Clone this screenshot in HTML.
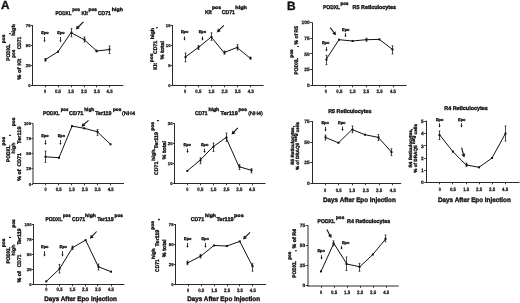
<!DOCTYPE html>
<html><head><meta charset="utf-8"><style>
html,body{margin:0;padding:0;background:#fff;width:520px;height:303px;overflow:hidden;position:relative;}
svg{filter:grayscale(1) blur(0.35px);}
svg text{stroke:#111;stroke-width:.35px;text-rendering:geometricPrecision;}
svg text.tk{stroke-width:.25px;}
</style></head><body>
<svg width="520" height="303" viewBox="0 0 520 303" style="position:absolute;left:0;top:0" font-family='"Liberation Sans", sans-serif' fill="#111">
<rect width="520" height="303" fill="#fff"/>
<line x1="32.5" y1="25" x2="32.5" y2="86" stroke="#2a2a2a" stroke-width="1.0"/>
<line x1="32" y1="85.5" x2="123.3" y2="85.5" stroke="#2a2a2a" stroke-width="1.0"/>
<line x1="30.9" y1="25.5" x2="32.5" y2="25.5" stroke="#222" stroke-width="0.9"/>
<text x="30.5" y="26.51" font-size="4.2" text-anchor="end" font-weight="bold" class="tk">75</text>
<line x1="30.9" y1="45.5" x2="32.5" y2="45.5" stroke="#222" stroke-width="0.9"/>
<text x="30.5" y="46.51" font-size="4.2" text-anchor="end" font-weight="bold" class="tk">50</text>
<line x1="30.9" y1="65.5" x2="32.5" y2="65.5" stroke="#222" stroke-width="0.9"/>
<text x="30.5" y="66.51" font-size="4.2" text-anchor="end" font-weight="bold" class="tk">25</text>
<line x1="30.9" y1="85.5" x2="32.5" y2="85.5" stroke="#222" stroke-width="0.9"/>
<text x="30.5" y="86.81" font-size="4.2" text-anchor="end" font-weight="bold" class="tk">0</text>
<line x1="45.5" y1="85.5" x2="45.5" y2="87.3" stroke="#222" stroke-width="0.9"/>
<text x="45" y="92.6" font-size="4.9" text-anchor="middle" font-weight="bold" class="tk" textLength="2.2" lengthAdjust="spacingAndGlyphs">0</text>
<line x1="58.5" y1="85.5" x2="58.5" y2="87.3" stroke="#222" stroke-width="0.9"/>
<text x="58" y="92.6" font-size="4.9" text-anchor="middle" font-weight="bold" class="tk" textLength="6" lengthAdjust="spacingAndGlyphs">0.5</text>
<line x1="71.5" y1="85.5" x2="71.5" y2="87.3" stroke="#222" stroke-width="0.9"/>
<text x="71" y="92.6" font-size="4.9" text-anchor="middle" font-weight="bold" class="tk" textLength="6" lengthAdjust="spacingAndGlyphs">1.5</text>
<line x1="84.5" y1="85.5" x2="84.5" y2="87.3" stroke="#222" stroke-width="0.9"/>
<text x="84" y="92.6" font-size="4.9" text-anchor="middle" font-weight="bold" class="tk" textLength="6" lengthAdjust="spacingAndGlyphs">2.5</text>
<line x1="96.5" y1="85.5" x2="96.5" y2="87.3" stroke="#222" stroke-width="0.9"/>
<text x="96.8" y="92.6" font-size="4.9" text-anchor="middle" font-weight="bold" class="tk" textLength="6" lengthAdjust="spacingAndGlyphs">3.5</text>
<line x1="109.5" y1="85.5" x2="109.5" y2="87.3" stroke="#222" stroke-width="0.9"/>
<text x="109.6" y="92.6" font-size="4.9" text-anchor="middle" font-weight="bold" class="tk" textLength="6" lengthAdjust="spacingAndGlyphs">4.5</text>
<polyline fill="none" stroke="#111" stroke-width="1" stroke-linejoin="round" points="45,59.8 58,51.7 71,32.7 84,39.5 96.8,51 109.6,49.5"/>
<line x1="45.5" y1="58.5" x2="45.5" y2="61.2" stroke="#111" stroke-width="0.75"/>
<line x1="44.6" y1="58.5" x2="46.4" y2="58.5" stroke="#111" stroke-width="0.75"/>
<line x1="44.6" y1="61.2" x2="46.4" y2="61.2" stroke="#111" stroke-width="0.75"/>
<rect x="44.5" y="58.8" width="2" height="2" fill="#111"/>
<rect x="57" y="50.7" width="2" height="2" fill="#111"/>
<line x1="71.5" y1="28.7" x2="71.5" y2="36.8" stroke="#111" stroke-width="0.75"/>
<line x1="70.6" y1="28.7" x2="72.4" y2="28.7" stroke="#111" stroke-width="0.75"/>
<line x1="70.6" y1="36.8" x2="72.4" y2="36.8" stroke="#111" stroke-width="0.75"/>
<rect x="70.5" y="31.7" width="2" height="2" fill="#111"/>
<line x1="84.5" y1="37" x2="84.5" y2="42" stroke="#111" stroke-width="0.75"/>
<line x1="83.6" y1="37" x2="85.4" y2="37" stroke="#111" stroke-width="0.75"/>
<line x1="83.6" y1="42" x2="85.4" y2="42" stroke="#111" stroke-width="0.75"/>
<rect x="83.5" y="38.5" width="2" height="2" fill="#111"/>
<line x1="96.5" y1="50" x2="96.5" y2="52" stroke="#111" stroke-width="0.75"/>
<line x1="95.6" y1="50" x2="97.4" y2="50" stroke="#111" stroke-width="0.75"/>
<line x1="95.6" y1="52" x2="97.4" y2="52" stroke="#111" stroke-width="0.75"/>
<rect x="95.5" y="50" width="2" height="2" fill="#111"/>
<line x1="109.5" y1="46" x2="109.5" y2="53.6" stroke="#111" stroke-width="0.75"/>
<line x1="108.6" y1="46" x2="110.4" y2="46" stroke="#111" stroke-width="0.75"/>
<line x1="108.6" y1="53.6" x2="110.4" y2="53.6" stroke="#111" stroke-width="0.75"/>
<rect x="108.5" y="48.5" width="2" height="2" fill="#111"/>
<text x="45" y="34.2" font-size="3.9" text-anchor="middle" font-weight="bold" textLength="7.4" lengthAdjust="spacingAndGlyphs">Epo</text>
<line x1="44.5" y1="37.1" x2="44.5" y2="40.8" stroke="#111" stroke-width="0.85"/>
<polygon points="44.5,42.3 43.35,40.4 45.65,40.4" fill="#111"/>
<text x="61" y="34.2" font-size="3.9" text-anchor="middle" font-weight="bold" textLength="7.4" lengthAdjust="spacingAndGlyphs">Epo</text>
<line x1="60.5" y1="37.1" x2="60.5" y2="40.8" stroke="#111" stroke-width="0.85"/>
<polygon points="60.5,42.3 59.35,40.4 61.65,40.4" fill="#111"/>
<line x1="83.4" y1="21.9" x2="78.06" y2="27.24" stroke="#111" stroke-width="1.1"/>
<polygon points="75.8,29.5 76.93,25.54 79.76,28.37" fill="#111"/>
<line x1="172.5" y1="25" x2="172.5" y2="86" stroke="#2a2a2a" stroke-width="1.0"/>
<line x1="172" y1="85.5" x2="263.6" y2="85.5" stroke="#2a2a2a" stroke-width="1.0"/>
<line x1="170.9" y1="25.5" x2="172.5" y2="25.5" stroke="#222" stroke-width="0.9"/>
<text x="170.5" y="26.51" font-size="4.2" text-anchor="end" font-weight="bold" class="tk">15</text>
<line x1="170.9" y1="45.5" x2="172.5" y2="45.5" stroke="#222" stroke-width="0.9"/>
<text x="170.5" y="46.51" font-size="4.2" text-anchor="end" font-weight="bold" class="tk">10</text>
<line x1="170.9" y1="65.5" x2="172.5" y2="65.5" stroke="#222" stroke-width="0.9"/>
<text x="170.5" y="66.71" font-size="4.2" text-anchor="end" font-weight="bold" class="tk">5</text>
<line x1="170.9" y1="85.5" x2="172.5" y2="85.5" stroke="#222" stroke-width="0.9"/>
<text x="170.5" y="86.81" font-size="4.2" text-anchor="end" font-weight="bold" class="tk">0</text>
<line x1="185.5" y1="85.5" x2="185.5" y2="87.3" stroke="#222" stroke-width="0.9"/>
<text x="185.1" y="92.5" font-size="4.9" text-anchor="middle" font-weight="bold" class="tk" textLength="2.2" lengthAdjust="spacingAndGlyphs">0</text>
<line x1="198.5" y1="85.5" x2="198.5" y2="87.3" stroke="#222" stroke-width="0.9"/>
<text x="198.3" y="92.5" font-size="4.9" text-anchor="middle" font-weight="bold" class="tk" textLength="6" lengthAdjust="spacingAndGlyphs">0.5</text>
<line x1="211.5" y1="85.5" x2="211.5" y2="87.3" stroke="#222" stroke-width="0.9"/>
<text x="211.5" y="92.5" font-size="4.9" text-anchor="middle" font-weight="bold" class="tk" textLength="6" lengthAdjust="spacingAndGlyphs">1.5</text>
<line x1="224.5" y1="85.5" x2="224.5" y2="87.3" stroke="#222" stroke-width="0.9"/>
<text x="224.6" y="92.5" font-size="4.9" text-anchor="middle" font-weight="bold" class="tk" textLength="6" lengthAdjust="spacingAndGlyphs">2.5</text>
<line x1="237.5" y1="85.5" x2="237.5" y2="87.3" stroke="#222" stroke-width="0.9"/>
<text x="237.7" y="92.5" font-size="4.9" text-anchor="middle" font-weight="bold" class="tk" textLength="6" lengthAdjust="spacingAndGlyphs">3.5</text>
<line x1="250.5" y1="85.5" x2="250.5" y2="87.3" stroke="#222" stroke-width="0.9"/>
<text x="250.8" y="92.5" font-size="4.9" text-anchor="middle" font-weight="bold" class="tk" textLength="6" lengthAdjust="spacingAndGlyphs">4.5</text>
<polyline fill="none" stroke="#111" stroke-width="1" stroke-linejoin="round" points="185.2,57.1 198.3,47.5 211.2,37 224,52.6 237,47.5 250,58.1"/>
<line x1="185.5" y1="53" x2="185.5" y2="61.8" stroke="#111" stroke-width="0.75"/>
<line x1="184.6" y1="53" x2="186.4" y2="53" stroke="#111" stroke-width="0.75"/>
<line x1="184.6" y1="61.8" x2="186.4" y2="61.8" stroke="#111" stroke-width="0.75"/>
<rect x="184.5" y="56.1" width="2" height="2" fill="#111"/>
<line x1="198.5" y1="45.5" x2="198.5" y2="49.5" stroke="#111" stroke-width="0.75"/>
<line x1="197.6" y1="45.5" x2="199.4" y2="45.5" stroke="#111" stroke-width="0.75"/>
<line x1="197.6" y1="49.5" x2="199.4" y2="49.5" stroke="#111" stroke-width="0.75"/>
<rect x="197.5" y="46.5" width="2" height="2" fill="#111"/>
<line x1="211.5" y1="32.8" x2="211.5" y2="40.4" stroke="#111" stroke-width="0.75"/>
<line x1="210.6" y1="32.8" x2="212.4" y2="32.8" stroke="#111" stroke-width="0.75"/>
<line x1="210.6" y1="40.4" x2="212.4" y2="40.4" stroke="#111" stroke-width="0.75"/>
<rect x="210.5" y="36" width="2" height="2" fill="#111"/>
<line x1="224.5" y1="51" x2="224.5" y2="54.2" stroke="#111" stroke-width="0.75"/>
<line x1="223.6" y1="51" x2="225.4" y2="51" stroke="#111" stroke-width="0.75"/>
<line x1="223.6" y1="54.2" x2="225.4" y2="54.2" stroke="#111" stroke-width="0.75"/>
<rect x="223.5" y="51.6" width="2" height="2" fill="#111"/>
<line x1="237.5" y1="44.6" x2="237.5" y2="50" stroke="#111" stroke-width="0.75"/>
<line x1="236.6" y1="44.6" x2="238.4" y2="44.6" stroke="#111" stroke-width="0.75"/>
<line x1="236.6" y1="50" x2="238.4" y2="50" stroke="#111" stroke-width="0.75"/>
<rect x="236.5" y="46.5" width="2" height="2" fill="#111"/>
<line x1="250.5" y1="57" x2="250.5" y2="59.2" stroke="#111" stroke-width="0.75"/>
<line x1="249.6" y1="57" x2="251.4" y2="57" stroke="#111" stroke-width="0.75"/>
<line x1="249.6" y1="59.2" x2="251.4" y2="59.2" stroke="#111" stroke-width="0.75"/>
<rect x="249.5" y="57.1" width="2" height="2" fill="#111"/>
<text x="184.6" y="33.4" font-size="3.9" text-anchor="middle" font-weight="bold" textLength="7.4" lengthAdjust="spacingAndGlyphs">Epo</text>
<line x1="184.5" y1="36.4" x2="184.5" y2="39" stroke="#111" stroke-width="0.85"/>
<polygon points="184.5,40.5 183.35,38.6 185.65,38.6" fill="#111"/>
<text x="202.4" y="33.4" font-size="3.9" text-anchor="middle" font-weight="bold" textLength="7.4" lengthAdjust="spacingAndGlyphs">Epo</text>
<line x1="202.5" y1="36.4" x2="202.5" y2="39" stroke="#111" stroke-width="0.85"/>
<polygon points="202.5,40.5 201.35,38.6 203.65,38.6" fill="#111"/>
<line x1="223.8" y1="25.3" x2="219.05" y2="30.12" stroke="#111" stroke-width="1.1"/>
<polygon points="216.8,32.4 217.9,28.43 220.75,31.24" fill="#111"/>
<line x1="33" y1="123.3" x2="33" y2="184" stroke="#2a2a2a" stroke-width="1.0"/>
<line x1="32.5" y1="183.5" x2="124" y2="183.5" stroke="#2a2a2a" stroke-width="1.0"/>
<line x1="31.4" y1="123.5" x2="33" y2="123.5" stroke="#222" stroke-width="0.9"/>
<text x="31" y="125.01" font-size="4.2" text-anchor="end" font-weight="bold" class="tk">100</text>
<line x1="31.4" y1="138.5" x2="33" y2="138.5" stroke="#222" stroke-width="0.9"/>
<text x="31" y="140.31" font-size="4.2" text-anchor="end" font-weight="bold" class="tk">75</text>
<line x1="31.4" y1="153.5" x2="33" y2="153.5" stroke="#222" stroke-width="0.9"/>
<text x="31" y="155.31" font-size="4.2" text-anchor="end" font-weight="bold" class="tk">50</text>
<line x1="31.4" y1="168.5" x2="33" y2="168.5" stroke="#222" stroke-width="0.9"/>
<text x="31" y="170.31" font-size="4.2" text-anchor="end" font-weight="bold" class="tk">25</text>
<line x1="31.4" y1="184.5" x2="33" y2="184.5" stroke="#222" stroke-width="0.9"/>
<text x="31" y="185.51" font-size="4.2" text-anchor="end" font-weight="bold" class="tk">0</text>
<line x1="45.5" y1="183.5" x2="45.5" y2="185.3" stroke="#222" stroke-width="0.9"/>
<text x="45.6" y="191" font-size="4.9" text-anchor="middle" font-weight="bold" class="tk" textLength="2.2" lengthAdjust="spacingAndGlyphs">0</text>
<line x1="58.5" y1="183.5" x2="58.5" y2="185.3" stroke="#222" stroke-width="0.9"/>
<text x="58.7" y="191" font-size="4.9" text-anchor="middle" font-weight="bold" class="tk" textLength="6" lengthAdjust="spacingAndGlyphs">0.5</text>
<line x1="71.5" y1="183.5" x2="71.5" y2="185.3" stroke="#222" stroke-width="0.9"/>
<text x="71.8" y="191" font-size="4.9" text-anchor="middle" font-weight="bold" class="tk" textLength="6" lengthAdjust="spacingAndGlyphs">1.5</text>
<line x1="84.5" y1="183.5" x2="84.5" y2="185.3" stroke="#222" stroke-width="0.9"/>
<text x="84.8" y="191" font-size="4.9" text-anchor="middle" font-weight="bold" class="tk" textLength="6" lengthAdjust="spacingAndGlyphs">2.5</text>
<line x1="97.5" y1="183.5" x2="97.5" y2="185.3" stroke="#222" stroke-width="0.9"/>
<text x="97.6" y="191" font-size="4.9" text-anchor="middle" font-weight="bold" class="tk" textLength="6" lengthAdjust="spacingAndGlyphs">3.5</text>
<line x1="110.5" y1="183.5" x2="110.5" y2="185.3" stroke="#222" stroke-width="0.9"/>
<text x="110.7" y="191" font-size="4.9" text-anchor="middle" font-weight="bold" class="tk" textLength="6" lengthAdjust="spacingAndGlyphs">4.5</text>
<polyline fill="none" stroke="#111" stroke-width="1" stroke-linejoin="round" points="45.6,156.8 59,157.7 72,126.1 84.2,128.3 97.2,131.7 110.5,144.3"/>
<line x1="45.5" y1="151" x2="45.5" y2="162.4" stroke="#111" stroke-width="0.75"/>
<line x1="44.6" y1="151" x2="46.4" y2="151" stroke="#111" stroke-width="0.75"/>
<line x1="44.6" y1="162.4" x2="46.4" y2="162.4" stroke="#111" stroke-width="0.75"/>
<rect x="44.5" y="155.8" width="2" height="2" fill="#111"/>
<rect x="58" y="156.7" width="2" height="2" fill="#111"/>
<rect x="71" y="125.1" width="2" height="2" fill="#111"/>
<rect x="83.2" y="127.3" width="2" height="2" fill="#111"/>
<line x1="97.5" y1="129.5" x2="97.5" y2="135.4" stroke="#111" stroke-width="0.75"/>
<line x1="96.6" y1="129.5" x2="98.4" y2="129.5" stroke="#111" stroke-width="0.75"/>
<line x1="96.6" y1="135.4" x2="98.4" y2="135.4" stroke="#111" stroke-width="0.75"/>
<rect x="96.5" y="130.7" width="2" height="2" fill="#111"/>
<rect x="109.5" y="143.3" width="2" height="2" fill="#111"/>
<text x="45" y="136.8" font-size="3.9" text-anchor="middle" font-weight="bold" textLength="7.4" lengthAdjust="spacingAndGlyphs">Epo</text>
<line x1="45.5" y1="140.1" x2="45.5" y2="143.5" stroke="#111" stroke-width="0.85"/>
<polygon points="45.5,145 44.35,143.1 46.65,143.1" fill="#111"/>
<text x="61.4" y="136.8" font-size="3.9" text-anchor="middle" font-weight="bold" textLength="7.4" lengthAdjust="spacingAndGlyphs">Epo</text>
<line x1="60.5" y1="140.1" x2="60.5" y2="143.5" stroke="#111" stroke-width="0.85"/>
<polygon points="60.5,145 59.35,143.1 61.65,143.1" fill="#111"/>
<line x1="88.5" y1="120.3" x2="83.76" y2="124.64" stroke="#111" stroke-width="1.1"/>
<polygon points="81.4,126.8 82.7,122.89 85.41,125.84" fill="#111"/>
<line x1="174.5" y1="123.3" x2="174.5" y2="184" stroke="#2a2a2a" stroke-width="1.0"/>
<line x1="174" y1="183.5" x2="265.5" y2="183.5" stroke="#2a2a2a" stroke-width="1.0"/>
<line x1="172.9" y1="123.5" x2="174.5" y2="123.5" stroke="#222" stroke-width="0.9"/>
<text x="172.5" y="125.01" font-size="4.2" text-anchor="end" font-weight="bold" class="tk">30</text>
<line x1="172.9" y1="143.5" x2="174.5" y2="143.5" stroke="#222" stroke-width="0.9"/>
<text x="172.5" y="144.81" font-size="4.2" text-anchor="end" font-weight="bold" class="tk">20</text>
<line x1="172.9" y1="163.5" x2="174.5" y2="163.5" stroke="#222" stroke-width="0.9"/>
<text x="172.5" y="164.81" font-size="4.2" text-anchor="end" font-weight="bold" class="tk">10</text>
<line x1="172.9" y1="183.5" x2="174.5" y2="183.5" stroke="#222" stroke-width="0.9"/>
<text x="172.5" y="185.11" font-size="4.2" text-anchor="end" font-weight="bold" class="tk">0</text>
<line x1="187.5" y1="183.5" x2="187.5" y2="185.3" stroke="#222" stroke-width="0.9"/>
<text x="187.3" y="190.9" font-size="4.9" text-anchor="middle" font-weight="bold" class="tk" textLength="2.2" lengthAdjust="spacingAndGlyphs">0</text>
<line x1="200.5" y1="183.5" x2="200.5" y2="185.3" stroke="#222" stroke-width="0.9"/>
<text x="200.3" y="190.9" font-size="4.9" text-anchor="middle" font-weight="bold" class="tk" textLength="6" lengthAdjust="spacingAndGlyphs">0.5</text>
<line x1="213.5" y1="183.5" x2="213.5" y2="185.3" stroke="#222" stroke-width="0.9"/>
<text x="213.4" y="190.9" font-size="4.9" text-anchor="middle" font-weight="bold" class="tk" textLength="6" lengthAdjust="spacingAndGlyphs">1.5</text>
<line x1="226.5" y1="183.5" x2="226.5" y2="185.3" stroke="#222" stroke-width="0.9"/>
<text x="226.5" y="190.9" font-size="4.9" text-anchor="middle" font-weight="bold" class="tk" textLength="6" lengthAdjust="spacingAndGlyphs">2.5</text>
<line x1="239.5" y1="183.5" x2="239.5" y2="185.3" stroke="#222" stroke-width="0.9"/>
<text x="239.3" y="190.9" font-size="4.9" text-anchor="middle" font-weight="bold" class="tk" textLength="6" lengthAdjust="spacingAndGlyphs">3.5</text>
<line x1="252.5" y1="183.5" x2="252.5" y2="185.3" stroke="#222" stroke-width="0.9"/>
<text x="252.1" y="190.9" font-size="4.9" text-anchor="middle" font-weight="bold" class="tk" textLength="6" lengthAdjust="spacingAndGlyphs">4.5</text>
<polyline fill="none" stroke="#111" stroke-width="1" stroke-linejoin="round" points="187.3,170.9 200,160.3 213,146.8 226,137.6 239,166.7 251.8,170.4"/>
<rect x="186.3" y="169.9" width="2" height="2" fill="#111"/>
<line x1="200.5" y1="157.8" x2="200.5" y2="163.7" stroke="#111" stroke-width="0.75"/>
<line x1="199.6" y1="157.8" x2="201.4" y2="157.8" stroke="#111" stroke-width="0.75"/>
<line x1="199.6" y1="163.7" x2="201.4" y2="163.7" stroke="#111" stroke-width="0.75"/>
<rect x="199.5" y="159.3" width="2" height="2" fill="#111"/>
<line x1="213.5" y1="143.1" x2="213.5" y2="151.5" stroke="#111" stroke-width="0.75"/>
<line x1="212.6" y1="143.1" x2="214.4" y2="143.1" stroke="#111" stroke-width="0.75"/>
<line x1="212.6" y1="151.5" x2="214.4" y2="151.5" stroke="#111" stroke-width="0.75"/>
<rect x="212.5" y="145.8" width="2" height="2" fill="#111"/>
<line x1="226.5" y1="133" x2="226.5" y2="141.4" stroke="#111" stroke-width="0.75"/>
<line x1="225.6" y1="133" x2="227.4" y2="133" stroke="#111" stroke-width="0.75"/>
<line x1="225.6" y1="141.4" x2="227.4" y2="141.4" stroke="#111" stroke-width="0.75"/>
<rect x="225.5" y="136.6" width="2" height="2" fill="#111"/>
<line x1="239.5" y1="164.5" x2="239.5" y2="169.6" stroke="#111" stroke-width="0.75"/>
<line x1="238.6" y1="164.5" x2="240.4" y2="164.5" stroke="#111" stroke-width="0.75"/>
<line x1="238.6" y1="169.6" x2="240.4" y2="169.6" stroke="#111" stroke-width="0.75"/>
<rect x="238.5" y="165.7" width="2" height="2" fill="#111"/>
<line x1="251.5" y1="168.7" x2="251.5" y2="172.9" stroke="#111" stroke-width="0.75"/>
<line x1="250.6" y1="168.7" x2="252.4" y2="168.7" stroke="#111" stroke-width="0.75"/>
<line x1="250.6" y1="172.9" x2="252.4" y2="172.9" stroke="#111" stroke-width="0.75"/>
<rect x="250.5" y="169.4" width="2" height="2" fill="#111"/>
<text x="187.3" y="145.8" font-size="3.9" text-anchor="middle" font-weight="bold" textLength="7.4" lengthAdjust="spacingAndGlyphs">Epo</text>
<line x1="187.5" y1="148.6" x2="187.5" y2="151.5" stroke="#111" stroke-width="0.85"/>
<polygon points="187.5,153 186.35,151.1 188.65,151.1" fill="#111"/>
<text x="204.6" y="145.8" font-size="3.9" text-anchor="middle" font-weight="bold" textLength="7.4" lengthAdjust="spacingAndGlyphs">Epo</text>
<line x1="204.5" y1="148.6" x2="204.5" y2="151.5" stroke="#111" stroke-width="0.85"/>
<polygon points="204.5,153 203.35,151.1 205.65,151.1" fill="#111"/>
<line x1="237.8" y1="127.8" x2="233.76" y2="132.24" stroke="#111" stroke-width="1.1"/>
<polygon points="231.6,134.6 232.55,130.59 235.5,133.29" fill="#111"/>
<line x1="33.5" y1="224" x2="33.5" y2="285" stroke="#2a2a2a" stroke-width="1.0"/>
<line x1="33" y1="284.5" x2="124.4" y2="284.5" stroke="#2a2a2a" stroke-width="1.0"/>
<line x1="31.9" y1="224.5" x2="33.5" y2="224.5" stroke="#222" stroke-width="0.9"/>
<text x="31.5" y="225.51" font-size="4.2" text-anchor="end" font-weight="bold" class="tk">100</text>
<line x1="31.9" y1="239.5" x2="33.5" y2="239.5" stroke="#222" stroke-width="0.9"/>
<text x="31.5" y="240.71" font-size="4.2" text-anchor="end" font-weight="bold" class="tk">75</text>
<line x1="31.9" y1="254.5" x2="33.5" y2="254.5" stroke="#222" stroke-width="0.9"/>
<text x="31.5" y="255.61" font-size="4.2" text-anchor="end" font-weight="bold" class="tk">50</text>
<line x1="31.9" y1="269.5" x2="33.5" y2="269.5" stroke="#222" stroke-width="0.9"/>
<text x="31.5" y="270.71" font-size="4.2" text-anchor="end" font-weight="bold" class="tk">25</text>
<line x1="31.9" y1="284.5" x2="33.5" y2="284.5" stroke="#222" stroke-width="0.9"/>
<text x="31.5" y="285.81" font-size="4.2" text-anchor="end" font-weight="bold" class="tk">0</text>
<line x1="46.5" y1="284.5" x2="46.5" y2="286.3" stroke="#222" stroke-width="0.9"/>
<text x="46.3" y="291.3" font-size="4.9" text-anchor="middle" font-weight="bold" class="tk" textLength="2.2" lengthAdjust="spacingAndGlyphs">0</text>
<line x1="59.5" y1="284.5" x2="59.5" y2="286.3" stroke="#222" stroke-width="0.9"/>
<text x="59.6" y="291.3" font-size="4.9" text-anchor="middle" font-weight="bold" class="tk" textLength="6" lengthAdjust="spacingAndGlyphs">0.5</text>
<line x1="72.5" y1="284.5" x2="72.5" y2="286.3" stroke="#222" stroke-width="0.9"/>
<text x="72.4" y="291.3" font-size="4.9" text-anchor="middle" font-weight="bold" class="tk" textLength="6" lengthAdjust="spacingAndGlyphs">1.5</text>
<line x1="85.5" y1="284.5" x2="85.5" y2="286.3" stroke="#222" stroke-width="0.9"/>
<text x="85.1" y="291.3" font-size="4.9" text-anchor="middle" font-weight="bold" class="tk" textLength="6" lengthAdjust="spacingAndGlyphs">2.5</text>
<line x1="97.5" y1="284.5" x2="97.5" y2="286.3" stroke="#222" stroke-width="0.9"/>
<text x="97.9" y="291.3" font-size="4.9" text-anchor="middle" font-weight="bold" class="tk" textLength="6" lengthAdjust="spacingAndGlyphs">3.5</text>
<line x1="111.5" y1="284.5" x2="111.5" y2="286.3" stroke="#222" stroke-width="0.9"/>
<text x="111" y="291.3" font-size="4.9" text-anchor="middle" font-weight="bold" class="tk" textLength="6" lengthAdjust="spacingAndGlyphs">4.5</text>
<polyline fill="none" stroke="#111" stroke-width="1" stroke-linejoin="round" points="46.3,281.4 59.6,268.8 72.5,247.7 85.6,240.1 98.4,266.8 111,271.7"/>
<rect x="45.3" y="280.4" width="2" height="2" fill="#111"/>
<line x1="59.5" y1="264.5" x2="59.5" y2="273" stroke="#111" stroke-width="0.75"/>
<line x1="58.6" y1="264.5" x2="60.4" y2="264.5" stroke="#111" stroke-width="0.75"/>
<line x1="58.6" y1="273" x2="60.4" y2="273" stroke="#111" stroke-width="0.75"/>
<rect x="58.5" y="267.8" width="2" height="2" fill="#111"/>
<line x1="72.5" y1="246" x2="72.5" y2="249.5" stroke="#111" stroke-width="0.75"/>
<line x1="71.6" y1="246" x2="73.4" y2="246" stroke="#111" stroke-width="0.75"/>
<line x1="71.6" y1="249.5" x2="73.4" y2="249.5" stroke="#111" stroke-width="0.75"/>
<rect x="71.5" y="246.7" width="2" height="2" fill="#111"/>
<rect x="84.6" y="239.1" width="2" height="2" fill="#111"/>
<line x1="98.5" y1="264" x2="98.5" y2="270" stroke="#111" stroke-width="0.75"/>
<line x1="97.6" y1="264" x2="99.4" y2="264" stroke="#111" stroke-width="0.75"/>
<line x1="97.6" y1="270" x2="99.4" y2="270" stroke="#111" stroke-width="0.75"/>
<rect x="97.5" y="265.8" width="2" height="2" fill="#111"/>
<rect x="110" y="270.7" width="2" height="2" fill="#111"/>
<text x="44.8" y="247.7" font-size="3.9" text-anchor="middle" font-weight="bold" textLength="7.4" lengthAdjust="spacingAndGlyphs">Epo</text>
<line x1="44.5" y1="251.1" x2="44.5" y2="255" stroke="#111" stroke-width="0.85"/>
<polygon points="44.5,256.5 43.35,254.6 45.65,254.6" fill="#111"/>
<text x="63.3" y="247.7" font-size="3.9" text-anchor="middle" font-weight="bold" textLength="7.4" lengthAdjust="spacingAndGlyphs">Epo</text>
<line x1="62.5" y1="251.1" x2="62.5" y2="255" stroke="#111" stroke-width="0.85"/>
<polygon points="62.5,256.5 61.35,254.6 63.65,254.6" fill="#111"/>
<line x1="96.6" y1="231.5" x2="92.08" y2="236.36" stroke="#111" stroke-width="1.1"/>
<polygon points="89.9,238.7 90.89,234.7 93.82,237.43" fill="#111"/>
<line x1="175.5" y1="224" x2="175.5" y2="285" stroke="#2a2a2a" stroke-width="1.0"/>
<line x1="175" y1="284.5" x2="266" y2="284.5" stroke="#2a2a2a" stroke-width="1.0"/>
<line x1="173.9" y1="224.5" x2="175.5" y2="224.5" stroke="#222" stroke-width="0.9"/>
<text x="173.5" y="225.51" font-size="4.2" text-anchor="end" font-weight="bold" class="tk">75</text>
<line x1="173.9" y1="244.5" x2="175.5" y2="244.5" stroke="#222" stroke-width="0.9"/>
<text x="173.5" y="245.81" font-size="4.2" text-anchor="end" font-weight="bold" class="tk">50</text>
<line x1="173.9" y1="264.5" x2="175.5" y2="264.5" stroke="#222" stroke-width="0.9"/>
<text x="173.5" y="266.01" font-size="4.2" text-anchor="end" font-weight="bold" class="tk">25</text>
<line x1="173.9" y1="284.5" x2="175.5" y2="284.5" stroke="#222" stroke-width="0.9"/>
<text x="173.5" y="285.81" font-size="4.2" text-anchor="end" font-weight="bold" class="tk">0</text>
<line x1="188.5" y1="284.5" x2="188.5" y2="286.3" stroke="#222" stroke-width="0.9"/>
<text x="188.2" y="292.3" font-size="4.9" text-anchor="middle" font-weight="bold" class="tk" textLength="2.2" lengthAdjust="spacingAndGlyphs">0</text>
<line x1="201.5" y1="284.5" x2="201.5" y2="286.3" stroke="#222" stroke-width="0.9"/>
<text x="201.2" y="292.3" font-size="4.9" text-anchor="middle" font-weight="bold" class="tk" textLength="6" lengthAdjust="spacingAndGlyphs">0.5</text>
<line x1="214.5" y1="284.5" x2="214.5" y2="286.3" stroke="#222" stroke-width="0.9"/>
<text x="214.2" y="292.3" font-size="4.9" text-anchor="middle" font-weight="bold" class="tk" textLength="6" lengthAdjust="spacingAndGlyphs">1.5</text>
<line x1="227.5" y1="284.5" x2="227.5" y2="286.3" stroke="#222" stroke-width="0.9"/>
<text x="227.1" y="292.3" font-size="4.9" text-anchor="middle" font-weight="bold" class="tk" textLength="6" lengthAdjust="spacingAndGlyphs">2.5</text>
<line x1="239.5" y1="284.5" x2="239.5" y2="286.3" stroke="#222" stroke-width="0.9"/>
<text x="239.9" y="292.3" font-size="4.9" text-anchor="middle" font-weight="bold" class="tk" textLength="6" lengthAdjust="spacingAndGlyphs">3.5</text>
<line x1="252.5" y1="284.5" x2="252.5" y2="286.3" stroke="#222" stroke-width="0.9"/>
<text x="252.8" y="292.3" font-size="4.9" text-anchor="middle" font-weight="bold" class="tk" textLength="6" lengthAdjust="spacingAndGlyphs">4.5</text>
<polyline fill="none" stroke="#111" stroke-width="1" stroke-linejoin="round" points="187.8,262.8 200.8,256.1 213.9,245.5 226.9,246 239.8,241.4 252.5,266.2"/>
<line x1="187.5" y1="261" x2="187.5" y2="264.6" stroke="#111" stroke-width="0.75"/>
<line x1="186.6" y1="261" x2="188.4" y2="261" stroke="#111" stroke-width="0.75"/>
<line x1="186.6" y1="264.6" x2="188.4" y2="264.6" stroke="#111" stroke-width="0.75"/>
<rect x="186.5" y="261.8" width="2" height="2" fill="#111"/>
<line x1="200.5" y1="254.4" x2="200.5" y2="257.9" stroke="#111" stroke-width="0.75"/>
<line x1="199.6" y1="254.4" x2="201.4" y2="254.4" stroke="#111" stroke-width="0.75"/>
<line x1="199.6" y1="257.9" x2="201.4" y2="257.9" stroke="#111" stroke-width="0.75"/>
<rect x="199.5" y="255.1" width="2" height="2" fill="#111"/>
<rect x="212.9" y="244.5" width="2" height="2" fill="#111"/>
<rect x="225.9" y="245" width="2" height="2" fill="#111"/>
<rect x="238.8" y="240.4" width="2" height="2" fill="#111"/>
<line x1="252.5" y1="263.7" x2="252.5" y2="271.2" stroke="#111" stroke-width="0.75"/>
<line x1="251.6" y1="263.7" x2="253.4" y2="263.7" stroke="#111" stroke-width="0.75"/>
<line x1="251.6" y1="271.2" x2="253.4" y2="271.2" stroke="#111" stroke-width="0.75"/>
<rect x="251.5" y="265.2" width="2" height="2" fill="#111"/>
<text x="187.8" y="240" font-size="3.9" text-anchor="middle" font-weight="bold" textLength="7.4" lengthAdjust="spacingAndGlyphs">Epo</text>
<line x1="187.5" y1="242.9" x2="187.5" y2="246.3" stroke="#111" stroke-width="0.85"/>
<polygon points="187.5,247.8 186.35,245.9 188.65,245.9" fill="#111"/>
<text x="205.2" y="240" font-size="3.9" text-anchor="middle" font-weight="bold" textLength="7.4" lengthAdjust="spacingAndGlyphs">Epo</text>
<line x1="205.5" y1="242.9" x2="205.5" y2="246.3" stroke="#111" stroke-width="0.85"/>
<polygon points="205.5,247.8 204.35,245.9 206.65,245.9" fill="#111"/>
<line x1="250" y1="232.4" x2="245.25" y2="237.22" stroke="#111" stroke-width="1.1"/>
<polygon points="243,239.5 244.1,235.53 246.95,238.34" fill="#111"/>
<line x1="312.5" y1="22.6" x2="312.5" y2="86" stroke="#2a2a2a" stroke-width="1.0"/>
<line x1="312" y1="85.5" x2="406.6" y2="85.5" stroke="#2a2a2a" stroke-width="1.0"/>
<line x1="310.2" y1="22.5" x2="312.5" y2="22.5" stroke="#222" stroke-width="0.9"/>
<text x="309.6" y="24.33" font-size="4.8" text-anchor="end" font-weight="bold" class="tk">100</text>
<line x1="310.2" y1="38.5" x2="312.5" y2="38.5" stroke="#222" stroke-width="0.9"/>
<text x="309.6" y="40.23" font-size="4.8" text-anchor="end" font-weight="bold" class="tk">75</text>
<line x1="310.2" y1="53.5" x2="312.5" y2="53.5" stroke="#222" stroke-width="0.9"/>
<text x="309.6" y="55.53" font-size="4.8" text-anchor="end" font-weight="bold" class="tk">50</text>
<line x1="310.2" y1="69.5" x2="312.5" y2="69.5" stroke="#222" stroke-width="0.9"/>
<text x="309.6" y="71.33" font-size="4.8" text-anchor="end" font-weight="bold" class="tk">25</text>
<line x1="310.2" y1="85.5" x2="312.5" y2="85.5" stroke="#222" stroke-width="0.9"/>
<text x="309.6" y="86.73" font-size="4.8" text-anchor="end" font-weight="bold" class="tk">0</text>
<line x1="325.5" y1="85.5" x2="325.5" y2="87.3" stroke="#222" stroke-width="0.9"/>
<text x="325.8" y="93.3" font-size="4.9" text-anchor="middle" font-weight="bold" class="tk" textLength="2.2" lengthAdjust="spacingAndGlyphs">0</text>
<line x1="339.5" y1="85.5" x2="339.5" y2="87.3" stroke="#222" stroke-width="0.9"/>
<text x="339.3" y="93.3" font-size="4.9" text-anchor="middle" font-weight="bold" class="tk" textLength="6" lengthAdjust="spacingAndGlyphs">0.5</text>
<line x1="352.5" y1="85.5" x2="352.5" y2="87.3" stroke="#222" stroke-width="0.9"/>
<text x="352.6" y="93.3" font-size="4.9" text-anchor="middle" font-weight="bold" class="tk" textLength="6" lengthAdjust="spacingAndGlyphs">1.5</text>
<line x1="366.5" y1="85.5" x2="366.5" y2="87.3" stroke="#222" stroke-width="0.9"/>
<text x="366.2" y="93.3" font-size="4.9" text-anchor="middle" font-weight="bold" class="tk" textLength="6" lengthAdjust="spacingAndGlyphs">2.5</text>
<line x1="379.5" y1="85.5" x2="379.5" y2="87.3" stroke="#222" stroke-width="0.9"/>
<text x="379.6" y="93.3" font-size="4.9" text-anchor="middle" font-weight="bold" class="tk" textLength="6" lengthAdjust="spacingAndGlyphs">3.5</text>
<line x1="393.5" y1="85.5" x2="393.5" y2="87.3" stroke="#222" stroke-width="0.9"/>
<text x="393" y="93.3" font-size="4.9" text-anchor="middle" font-weight="bold" class="tk" textLength="6" lengthAdjust="spacingAndGlyphs">4.5</text>
<polyline fill="none" stroke="#111" stroke-width="1" stroke-linejoin="round" points="326,59.6 339,39.7 352.6,41 366,39.7 379.4,39.4 392.5,49.5"/>
<line x1="326.5" y1="55.4" x2="326.5" y2="64.6" stroke="#111" stroke-width="0.75"/>
<line x1="325.6" y1="55.4" x2="327.4" y2="55.4" stroke="#111" stroke-width="0.75"/>
<line x1="325.6" y1="64.6" x2="327.4" y2="64.6" stroke="#111" stroke-width="0.75"/>
<rect x="325.5" y="58.6" width="2" height="2" fill="#111"/>
<rect x="338" y="38.7" width="2" height="2" fill="#111"/>
<rect x="351.6" y="40" width="2" height="2" fill="#111"/>
<line x1="366.5" y1="38.2" x2="366.5" y2="41.2" stroke="#111" stroke-width="0.75"/>
<line x1="365.6" y1="38.2" x2="367.4" y2="38.2" stroke="#111" stroke-width="0.75"/>
<line x1="365.6" y1="41.2" x2="367.4" y2="41.2" stroke="#111" stroke-width="0.75"/>
<rect x="365.5" y="38.7" width="2" height="2" fill="#111"/>
<rect x="378.4" y="38.4" width="2" height="2" fill="#111"/>
<line x1="392.5" y1="45.8" x2="392.5" y2="54" stroke="#111" stroke-width="0.75"/>
<line x1="391.6" y1="45.8" x2="393.4" y2="45.8" stroke="#111" stroke-width="0.75"/>
<line x1="391.6" y1="54" x2="393.4" y2="54" stroke="#111" stroke-width="0.75"/>
<rect x="391.5" y="48.5" width="2" height="2" fill="#111"/>
<text x="325.7" y="44.1" font-size="3.9" text-anchor="middle" font-weight="bold" textLength="7.4" lengthAdjust="spacingAndGlyphs">Epo</text>
<line x1="326.5" y1="47.1" x2="326.5" y2="50" stroke="#111" stroke-width="0.85"/>
<polygon points="326.5,51.5 325.35,49.6 327.65,49.6" fill="#111"/>
<text x="345.8" y="30.7" font-size="3.9" text-anchor="middle" font-weight="bold" textLength="7.4" lengthAdjust="spacingAndGlyphs">Epo</text>
<line x1="345.5" y1="32.9" x2="345.5" y2="35.7" stroke="#111" stroke-width="0.85"/>
<polygon points="345.5,37.2 344.35,35.3 346.65,35.3" fill="#111"/>
<line x1="330.2" y1="27.6" x2="334.07" y2="32.74" stroke="#111" stroke-width="1.1"/>
<polygon points="336,35.3 332.24,33.63 335.43,31.22" fill="#111"/>
<line x1="312.5" y1="121" x2="312.5" y2="184" stroke="#2a2a2a" stroke-width="1.0"/>
<line x1="312" y1="183.5" x2="401.2" y2="183.5" stroke="#2a2a2a" stroke-width="1.0"/>
<line x1="310.2" y1="121.5" x2="312.5" y2="121.5" stroke="#222" stroke-width="0.9"/>
<text x="309.6" y="123.13" font-size="4.8" text-anchor="end" font-weight="bold" class="tk">75</text>
<line x1="310.2" y1="142.5" x2="312.5" y2="142.5" stroke="#222" stroke-width="0.9"/>
<text x="309.6" y="143.73" font-size="4.8" text-anchor="end" font-weight="bold" class="tk">50</text>
<line x1="310.2" y1="162.5" x2="312.5" y2="162.5" stroke="#222" stroke-width="0.9"/>
<text x="309.6" y="164.33" font-size="4.8" text-anchor="end" font-weight="bold" class="tk">25</text>
<line x1="310.2" y1="183.5" x2="312.5" y2="183.5" stroke="#222" stroke-width="0.9"/>
<text x="309.6" y="185.03" font-size="4.8" text-anchor="end" font-weight="bold" class="tk">0</text>
<line x1="325.5" y1="183.5" x2="325.5" y2="185.3" stroke="#222" stroke-width="0.9"/>
<text x="325.2" y="192" font-size="4.9" text-anchor="middle" font-weight="bold" class="tk" textLength="2.2" lengthAdjust="spacingAndGlyphs">0</text>
<line x1="338.5" y1="183.5" x2="338.5" y2="185.3" stroke="#222" stroke-width="0.9"/>
<text x="338.7" y="192" font-size="4.9" text-anchor="middle" font-weight="bold" class="tk" textLength="6" lengthAdjust="spacingAndGlyphs">0.5</text>
<line x1="352.5" y1="183.5" x2="352.5" y2="185.3" stroke="#222" stroke-width="0.9"/>
<text x="352.1" y="192" font-size="4.9" text-anchor="middle" font-weight="bold" class="tk" textLength="6" lengthAdjust="spacingAndGlyphs">1.5</text>
<line x1="365.5" y1="183.5" x2="365.5" y2="185.3" stroke="#222" stroke-width="0.9"/>
<text x="365.8" y="192" font-size="4.9" text-anchor="middle" font-weight="bold" class="tk" textLength="6" lengthAdjust="spacingAndGlyphs">2.5</text>
<line x1="379.5" y1="183.5" x2="379.5" y2="185.3" stroke="#222" stroke-width="0.9"/>
<text x="379.1" y="192" font-size="4.9" text-anchor="middle" font-weight="bold" class="tk" textLength="6" lengthAdjust="spacingAndGlyphs">3.5</text>
<line x1="392.5" y1="183.5" x2="392.5" y2="185.3" stroke="#222" stroke-width="0.9"/>
<text x="392.8" y="192" font-size="4.9" text-anchor="middle" font-weight="bold" class="tk" textLength="6" lengthAdjust="spacingAndGlyphs">4.5</text>
<polyline fill="none" stroke="#111" stroke-width="1" stroke-linejoin="round" points="325.1,137.3 338.5,142.8 352,129.6 365,134.7 378.3,137.4 391.6,152.2"/>
<line x1="325.5" y1="135" x2="325.5" y2="140" stroke="#111" stroke-width="0.75"/>
<line x1="324.6" y1="135" x2="326.4" y2="135" stroke="#111" stroke-width="0.75"/>
<line x1="324.6" y1="140" x2="326.4" y2="140" stroke="#111" stroke-width="0.75"/>
<rect x="324.5" y="136.3" width="2" height="2" fill="#111"/>
<rect x="337.5" y="141.8" width="2" height="2" fill="#111"/>
<line x1="352.5" y1="126" x2="352.5" y2="132.7" stroke="#111" stroke-width="0.75"/>
<line x1="351.6" y1="126" x2="353.4" y2="126" stroke="#111" stroke-width="0.75"/>
<line x1="351.6" y1="132.7" x2="353.4" y2="132.7" stroke="#111" stroke-width="0.75"/>
<rect x="351.5" y="128.6" width="2" height="2" fill="#111"/>
<rect x="364" y="133.7" width="2" height="2" fill="#111"/>
<line x1="378.5" y1="134.6" x2="378.5" y2="140.5" stroke="#111" stroke-width="0.75"/>
<line x1="377.6" y1="134.6" x2="379.4" y2="134.6" stroke="#111" stroke-width="0.75"/>
<line x1="377.6" y1="140.5" x2="379.4" y2="140.5" stroke="#111" stroke-width="0.75"/>
<rect x="377.5" y="136.4" width="2" height="2" fill="#111"/>
<line x1="391.5" y1="148.8" x2="391.5" y2="155.6" stroke="#111" stroke-width="0.75"/>
<line x1="390.6" y1="148.8" x2="392.4" y2="148.8" stroke="#111" stroke-width="0.75"/>
<line x1="390.6" y1="155.6" x2="392.4" y2="155.6" stroke="#111" stroke-width="0.75"/>
<rect x="390.5" y="151.2" width="2" height="2" fill="#111"/>
<text x="325.2" y="124" font-size="3.9" text-anchor="middle" font-weight="bold" textLength="7.4" lengthAdjust="spacingAndGlyphs">Epo</text>
<line x1="325.5" y1="126.9" x2="325.5" y2="129.9" stroke="#111" stroke-width="0.85"/>
<polygon points="325.5,131.4 324.35,129.5 326.65,129.5" fill="#111"/>
<text x="341.8" y="123.7" font-size="3.9" text-anchor="middle" font-weight="bold" textLength="7.4" lengthAdjust="spacingAndGlyphs">Epo</text>
<line x1="342.5" y1="126.6" x2="342.5" y2="129.5" stroke="#111" stroke-width="0.85"/>
<polygon points="342.5,131 341.35,129.1 343.65,129.1" fill="#111"/>
<line x1="426.5" y1="120.6" x2="426.5" y2="183" stroke="#2a2a2a" stroke-width="1.0"/>
<line x1="426" y1="182.5" x2="519.5" y2="182.5" stroke="#2a2a2a" stroke-width="1.0"/>
<line x1="424.2" y1="121.5" x2="426.5" y2="121.5" stroke="#222" stroke-width="0.9"/>
<text x="423.6" y="123.23" font-size="4.8" text-anchor="end" font-weight="bold" class="tk">5</text>
<line x1="424.2" y1="133.5" x2="426.5" y2="133.5" stroke="#222" stroke-width="0.9"/>
<text x="423.6" y="135.03" font-size="4.8" text-anchor="end" font-weight="bold" class="tk">4</text>
<line x1="424.2" y1="145.5" x2="426.5" y2="145.5" stroke="#222" stroke-width="0.9"/>
<text x="423.6" y="147.53" font-size="4.8" text-anchor="end" font-weight="bold" class="tk">3</text>
<line x1="424.2" y1="158.5" x2="426.5" y2="158.5" stroke="#222" stroke-width="0.9"/>
<text x="423.6" y="159.73" font-size="4.8" text-anchor="end" font-weight="bold" class="tk">2</text>
<line x1="424.2" y1="170.5" x2="426.5" y2="170.5" stroke="#222" stroke-width="0.9"/>
<text x="423.6" y="172.03" font-size="4.8" text-anchor="end" font-weight="bold" class="tk">1</text>
<line x1="424.2" y1="182.5" x2="426.5" y2="182.5" stroke="#222" stroke-width="0.9"/>
<text x="423.6" y="184.23" font-size="4.8" text-anchor="end" font-weight="bold" class="tk">0</text>
<line x1="439.5" y1="182.5" x2="439.5" y2="184.3" stroke="#222" stroke-width="0.9"/>
<text x="439.8" y="191" font-size="4.9" text-anchor="middle" font-weight="bold" class="tk" textLength="2.2" lengthAdjust="spacingAndGlyphs">0</text>
<line x1="452.5" y1="182.5" x2="452.5" y2="184.3" stroke="#222" stroke-width="0.9"/>
<text x="452.9" y="191" font-size="4.9" text-anchor="middle" font-weight="bold" class="tk" textLength="6" lengthAdjust="spacingAndGlyphs">0.5</text>
<line x1="466.5" y1="182.5" x2="466.5" y2="184.3" stroke="#222" stroke-width="0.9"/>
<text x="466.2" y="191" font-size="4.9" text-anchor="middle" font-weight="bold" class="tk" textLength="6" lengthAdjust="spacingAndGlyphs">1.5</text>
<line x1="479.5" y1="182.5" x2="479.5" y2="184.3" stroke="#222" stroke-width="0.9"/>
<text x="479.1" y="191" font-size="4.9" text-anchor="middle" font-weight="bold" class="tk" textLength="6" lengthAdjust="spacingAndGlyphs">2.5</text>
<line x1="492.5" y1="182.5" x2="492.5" y2="184.3" stroke="#222" stroke-width="0.9"/>
<text x="492.1" y="191" font-size="4.9" text-anchor="middle" font-weight="bold" class="tk" textLength="6" lengthAdjust="spacingAndGlyphs">3.5</text>
<line x1="505.5" y1="182.5" x2="505.5" y2="184.3" stroke="#222" stroke-width="0.9"/>
<text x="505.1" y="191" font-size="4.9" text-anchor="middle" font-weight="bold" class="tk" textLength="6" lengthAdjust="spacingAndGlyphs">4.5</text>
<polyline fill="none" stroke="#111" stroke-width="1" stroke-linejoin="round" points="439.7,135 452.9,151.6 466,164.9 479,167.3 492,158 505.4,133.6"/>
<line x1="439.5" y1="131" x2="439.5" y2="139.5" stroke="#111" stroke-width="0.75"/>
<line x1="438.6" y1="131" x2="440.4" y2="131" stroke="#111" stroke-width="0.75"/>
<line x1="438.6" y1="139.5" x2="440.4" y2="139.5" stroke="#111" stroke-width="0.75"/>
<rect x="438.5" y="134" width="2" height="2" fill="#111"/>
<rect x="451.9" y="150.6" width="2" height="2" fill="#111"/>
<line x1="466.5" y1="163" x2="466.5" y2="166.6" stroke="#111" stroke-width="0.75"/>
<line x1="465.6" y1="163" x2="467.4" y2="163" stroke="#111" stroke-width="0.75"/>
<line x1="465.6" y1="166.6" x2="467.4" y2="166.6" stroke="#111" stroke-width="0.75"/>
<rect x="465.5" y="163.9" width="2" height="2" fill="#111"/>
<rect x="478" y="166.3" width="2" height="2" fill="#111"/>
<rect x="491" y="157" width="2" height="2" fill="#111"/>
<line x1="505.5" y1="126" x2="505.5" y2="141.1" stroke="#111" stroke-width="0.75"/>
<line x1="504.6" y1="126" x2="506.4" y2="126" stroke="#111" stroke-width="0.75"/>
<line x1="504.6" y1="141.1" x2="506.4" y2="141.1" stroke="#111" stroke-width="0.75"/>
<rect x="504.5" y="132.6" width="2" height="2" fill="#111"/>
<text x="439.6" y="120.8" font-size="3.9" text-anchor="middle" font-weight="bold" textLength="7.4" lengthAdjust="spacingAndGlyphs">Epo</text>
<line x1="439.5" y1="123.1" x2="439.5" y2="126" stroke="#111" stroke-width="0.85"/>
<polygon points="439.5,127.5 438.35,125.6 440.65,125.6" fill="#111"/>
<text x="461.8" y="120.8" font-size="3.9" text-anchor="middle" font-weight="bold" textLength="7.4" lengthAdjust="spacingAndGlyphs">Epo</text>
<line x1="461.5" y1="123.1" x2="461.5" y2="126" stroke="#111" stroke-width="0.85"/>
<polygon points="461.5,127.5 460.35,125.6 462.65,125.6" fill="#111"/>
<line x1="461.6" y1="147.6" x2="463.47" y2="154.51" stroke="#111" stroke-width="1.1"/>
<polygon points="464.3,157.6 461.43,154.65 465.29,153.6" fill="#111"/>
<line x1="308" y1="225.4" x2="308" y2="286.5" stroke="#2a2a2a" stroke-width="1.0"/>
<line x1="307.5" y1="286" x2="398.7" y2="286" stroke="#2a2a2a" stroke-width="1.0"/>
<line x1="305.7" y1="225.5" x2="308" y2="225.5" stroke="#222" stroke-width="0.9"/>
<text x="305.1" y="227.13" font-size="4.8" text-anchor="end" font-weight="bold" class="tk">75</text>
<line x1="305.7" y1="245.5" x2="308" y2="245.5" stroke="#222" stroke-width="0.9"/>
<text x="305.1" y="247.33" font-size="4.8" text-anchor="end" font-weight="bold" class="tk">50</text>
<line x1="305.7" y1="265.5" x2="308" y2="265.5" stroke="#222" stroke-width="0.9"/>
<text x="305.1" y="267.13" font-size="4.8" text-anchor="end" font-weight="bold" class="tk">25</text>
<line x1="305.7" y1="285.5" x2="308" y2="285.5" stroke="#222" stroke-width="0.9"/>
<text x="305.1" y="287.03" font-size="4.8" text-anchor="end" font-weight="bold" class="tk">0</text>
<line x1="321.5" y1="286" x2="321.5" y2="287.8" stroke="#222" stroke-width="0.9"/>
<text x="321.1" y="293.8" font-size="4.9" text-anchor="middle" font-weight="bold" class="tk" textLength="2.2" lengthAdjust="spacingAndGlyphs">0</text>
<line x1="334.5" y1="286" x2="334.5" y2="287.8" stroke="#222" stroke-width="0.9"/>
<text x="334.1" y="293.8" font-size="4.9" text-anchor="middle" font-weight="bold" class="tk" textLength="6" lengthAdjust="spacingAndGlyphs">0.5</text>
<line x1="347.5" y1="286" x2="347.5" y2="287.8" stroke="#222" stroke-width="0.9"/>
<text x="347.1" y="293.8" font-size="4.9" text-anchor="middle" font-weight="bold" class="tk" textLength="6" lengthAdjust="spacingAndGlyphs">1.5</text>
<line x1="360.5" y1="286" x2="360.5" y2="287.8" stroke="#222" stroke-width="0.9"/>
<text x="360.1" y="293.8" font-size="4.9" text-anchor="middle" font-weight="bold" class="tk" textLength="6" lengthAdjust="spacingAndGlyphs">2.5</text>
<line x1="373.5" y1="286" x2="373.5" y2="287.8" stroke="#222" stroke-width="0.9"/>
<text x="373.1" y="293.8" font-size="4.9" text-anchor="middle" font-weight="bold" class="tk" textLength="6" lengthAdjust="spacingAndGlyphs">3.5</text>
<line x1="386.5" y1="286" x2="386.5" y2="287.8" stroke="#222" stroke-width="0.9"/>
<text x="386.2" y="293.8" font-size="4.9" text-anchor="middle" font-weight="bold" class="tk" textLength="6" lengthAdjust="spacingAndGlyphs">4.5</text>
<polyline fill="none" stroke="#111" stroke-width="1" stroke-linejoin="round" points="321,271.4 333.8,243.3 346.8,264 359.8,266.8 372.8,254.5 385.8,238.8"/>
<rect x="320" y="270.4" width="2" height="2" fill="#111"/>
<line x1="333.5" y1="240.8" x2="333.5" y2="245.8" stroke="#111" stroke-width="0.75"/>
<line x1="332.6" y1="240.8" x2="334.4" y2="240.8" stroke="#111" stroke-width="0.75"/>
<line x1="332.6" y1="245.8" x2="334.4" y2="245.8" stroke="#111" stroke-width="0.75"/>
<rect x="332.5" y="242.3" width="2" height="2" fill="#111"/>
<line x1="346.5" y1="257" x2="346.5" y2="270.5" stroke="#111" stroke-width="0.75"/>
<line x1="345.6" y1="257" x2="347.4" y2="257" stroke="#111" stroke-width="0.75"/>
<line x1="345.6" y1="270.5" x2="347.4" y2="270.5" stroke="#111" stroke-width="0.75"/>
<rect x="345.5" y="263" width="2" height="2" fill="#111"/>
<line x1="359.5" y1="263.4" x2="359.5" y2="271.3" stroke="#111" stroke-width="0.75"/>
<line x1="358.6" y1="263.4" x2="360.4" y2="263.4" stroke="#111" stroke-width="0.75"/>
<line x1="358.6" y1="271.3" x2="360.4" y2="271.3" stroke="#111" stroke-width="0.75"/>
<rect x="358.5" y="265.8" width="2" height="2" fill="#111"/>
<rect x="371.8" y="253.5" width="2" height="2" fill="#111"/>
<line x1="385.5" y1="235" x2="385.5" y2="241.8" stroke="#111" stroke-width="0.75"/>
<line x1="384.6" y1="235" x2="386.4" y2="235" stroke="#111" stroke-width="0.75"/>
<line x1="384.6" y1="241.8" x2="386.4" y2="241.8" stroke="#111" stroke-width="0.75"/>
<rect x="384.5" y="237.8" width="2" height="2" fill="#111"/>
<text x="321.2" y="251.7" font-size="3.9" text-anchor="middle" font-weight="bold" textLength="7.4" lengthAdjust="spacingAndGlyphs">Epo</text>
<line x1="321.5" y1="255.1" x2="321.5" y2="258" stroke="#111" stroke-width="0.85"/>
<polygon points="321.5,259.5 320.35,257.6 322.65,257.6" fill="#111"/>
<text x="345.6" y="243.9" font-size="3.9" text-anchor="middle" font-weight="bold" textLength="7.4" lengthAdjust="spacingAndGlyphs">Epo</text>
<line x1="341.5" y1="245.8" x2="341.5" y2="248.1" stroke="#111" stroke-width="0.85"/>
<polygon points="341.5,249.6 340.35,247.7 342.65,247.7" fill="#111"/>
<line x1="326.8" y1="229.5" x2="329.95" y2="235.2" stroke="#111" stroke-width="1.1"/>
<polygon points="331.5,238 328.01,235.82 331.51,233.88" fill="#111"/>
<text x="0.9" y="9.3" font-size="11.8" text-anchor="start" font-weight="bold">A</text>
<text x="287" y="9.7" font-size="12" text-anchor="start" font-weight="bold">B</text>
<text x="55.4" y="14.6" font-size="5.6" text-anchor="start" font-weight="bold" textLength="16.1" lengthAdjust="spacingAndGlyphs">PODXL</text>
<text x="72.3" y="10.5" font-size="4.7" text-anchor="start" font-weight="bold" textLength="7.7" lengthAdjust="spacingAndGlyphs">pos</text>
<text x="81.5" y="14.6" font-size="5.6" text-anchor="start" font-weight="bold" textLength="6.2" lengthAdjust="spacingAndGlyphs">Kit</text>
<text x="88.5" y="10.5" font-size="4.7" text-anchor="start" font-weight="bold" textLength="8.5" lengthAdjust="spacingAndGlyphs">pos</text>
<text x="98" y="14.6" font-size="5.6" text-anchor="start" font-weight="bold" textLength="12.8" lengthAdjust="spacingAndGlyphs">CD71</text>
<text x="111.8" y="10.5" font-size="4.7" text-anchor="start" font-weight="bold" textLength="11.2" lengthAdjust="spacingAndGlyphs">high</text>
<text x="205" y="13.5" font-size="5.6" text-anchor="start" font-weight="bold" textLength="6.7" lengthAdjust="spacingAndGlyphs">Kit</text>
<text x="212" y="9.4" font-size="4.7" text-anchor="start" font-weight="bold" textLength="9" lengthAdjust="spacingAndGlyphs">pos</text>
<text x="221.8" y="13.5" font-size="5.6" text-anchor="start" font-weight="bold" textLength="13.2" lengthAdjust="spacingAndGlyphs">CD71</text>
<text x="235.3" y="9.4" font-size="4.7" text-anchor="start" font-weight="bold" textLength="11.7" lengthAdjust="spacingAndGlyphs">high</text>
<text x="43" y="115.3" font-size="5.6" text-anchor="start" font-weight="bold" textLength="16.8" lengthAdjust="spacingAndGlyphs">PODXL</text>
<text x="60.7" y="111.2" font-size="4.7" text-anchor="start" font-weight="bold" textLength="7.6" lengthAdjust="spacingAndGlyphs">pos</text>
<text x="69" y="115.3" font-size="5.6" text-anchor="start" font-weight="bold" textLength="14.4" lengthAdjust="spacingAndGlyphs">CD71</text>
<text x="84.2" y="111.2" font-size="4.7" text-anchor="start" font-weight="bold" textLength="10.1" lengthAdjust="spacingAndGlyphs">high</text>
<text x="95.2" y="115.3" font-size="5.6" text-anchor="start" font-weight="bold" textLength="16.3" lengthAdjust="spacingAndGlyphs">Ter119</text>
<text x="112.9" y="111.2" font-size="4.7" text-anchor="start" font-weight="bold" textLength="8.4" lengthAdjust="spacingAndGlyphs">pos</text>
<text x="122" y="115.3" font-size="5.319999999999999" text-anchor="start" font-weight="normal" textLength="13" lengthAdjust="spacingAndGlyphs">(NH4</text>
<text x="194.9" y="115.2" font-size="5.6" text-anchor="start" font-weight="bold" textLength="12.6" lengthAdjust="spacingAndGlyphs">CD71</text>
<text x="208.4" y="111.1" font-size="4.7" text-anchor="start" font-weight="bold" textLength="10.9" lengthAdjust="spacingAndGlyphs">high</text>
<text x="220.5" y="115.2" font-size="5.6" text-anchor="start" font-weight="bold" textLength="17.3" lengthAdjust="spacingAndGlyphs">Ter119</text>
<text x="238.4" y="111.1" font-size="4.7" text-anchor="start" font-weight="bold" textLength="8.6" lengthAdjust="spacingAndGlyphs">pos</text>
<text x="248.2" y="115.2" font-size="5.319999999999999" text-anchor="start" font-weight="normal" textLength="14.7" lengthAdjust="spacingAndGlyphs">(NH4)</text>
<text x="45.5" y="221.1" font-size="5.6" text-anchor="start" font-weight="bold" textLength="16.9" lengthAdjust="spacingAndGlyphs">PODXL</text>
<text x="62.9" y="217" font-size="4.7" text-anchor="start" font-weight="bold" textLength="7.9" lengthAdjust="spacingAndGlyphs">pos</text>
<text x="72" y="221.1" font-size="5.6" text-anchor="start" font-weight="bold" textLength="13.1" lengthAdjust="spacingAndGlyphs">CD71</text>
<text x="85.1" y="217" font-size="4.7" text-anchor="start" font-weight="bold" textLength="10.9" lengthAdjust="spacingAndGlyphs">high</text>
<text x="97.2" y="221.1" font-size="5.6" text-anchor="start" font-weight="bold" textLength="16.5" lengthAdjust="spacingAndGlyphs">Ter119</text>
<text x="114.5" y="217" font-size="4.7" text-anchor="start" font-weight="bold" textLength="8.5" lengthAdjust="spacingAndGlyphs">pos</text>
<text x="190.7" y="221.1" font-size="5.6" text-anchor="start" font-weight="bold" textLength="13.4" lengthAdjust="spacingAndGlyphs">CD71</text>
<text x="205" y="217" font-size="4.7" text-anchor="start" font-weight="bold" textLength="11" lengthAdjust="spacingAndGlyphs">high</text>
<text x="216.4" y="221.1" font-size="5.6" text-anchor="start" font-weight="bold" textLength="17.2" lengthAdjust="spacingAndGlyphs">Ter119</text>
<text x="234" y="217" font-size="4.7" text-anchor="start" font-weight="bold" textLength="9.7" lengthAdjust="spacingAndGlyphs">pos</text>
<text x="323" y="8.7" font-size="5.6" text-anchor="start" font-weight="bold" textLength="17.1" lengthAdjust="spacingAndGlyphs">PODXL</text>
<text x="340.6" y="4.6" font-size="4.7" text-anchor="start" font-weight="bold" textLength="7.9" lengthAdjust="spacingAndGlyphs">pos</text>
<text x="352.6" y="8.7" font-size="5.6" text-anchor="start" font-weight="bold" textLength="43.5" lengthAdjust="spacingAndGlyphs">R5 Reticulocytes</text>
<text x="328.2" y="113.1" font-size="5.6" text-anchor="start" font-weight="bold" textLength="43.2" lengthAdjust="spacingAndGlyphs">R5 Reticulocytes</text>
<text x="444.3" y="110" font-size="5.6" text-anchor="start" font-weight="bold" textLength="43.4" lengthAdjust="spacingAndGlyphs">R4 Reticulocytes</text>
<text x="317.5" y="222.6" font-size="5.6" text-anchor="start" font-weight="bold" textLength="17.6" lengthAdjust="spacingAndGlyphs">PODXL</text>
<text x="335.9" y="218.5" font-size="4.7" text-anchor="start" font-weight="bold" textLength="8.4" lengthAdjust="spacingAndGlyphs">pos</text>
<text x="347.1" y="222.6" font-size="5.6" text-anchor="start" font-weight="bold" textLength="43.2" lengthAdjust="spacingAndGlyphs">R4 Reticulocytes</text>
<text x="44.2" y="300.5" font-size="6.6" text-anchor="start" font-weight="bold" textLength="72.7" lengthAdjust="spacingAndGlyphs">Days After Epo Injection</text>
<text x="187.2" y="300.5" font-size="6.6" text-anchor="start" font-weight="bold" textLength="72.9" lengthAdjust="spacingAndGlyphs">Days After Epo Injection</text>
<text x="323" y="201.9" font-size="6.6" text-anchor="start" font-weight="bold" textLength="72.8" lengthAdjust="spacingAndGlyphs">Days After Epo Injection</text>
<text x="438" y="201.8" font-size="6.6" text-anchor="start" font-weight="bold" textLength="72.8" lengthAdjust="spacingAndGlyphs">Days After Epo Injection</text>
<text transform="translate(9.9,60.8) rotate(-90)" font-size="5.3" font-weight="bold" textLength="16.9" lengthAdjust="spacingAndGlyphs">PODXL</text>
<text transform="translate(4.7,43.3) rotate(-90)" font-size="4.8" font-weight="bold" textLength="8.7" lengthAdjust="spacingAndGlyphs">pos</text>
<text transform="translate(9.9,34.6) rotate(-90)" font-size="5.3" font-weight="bold" textLength="1.6" lengthAdjust="spacingAndGlyphs">,</text>
<text transform="translate(20.6,79.8) rotate(-90)" font-size="5.3" font-weight="bold" textLength="12.2" lengthAdjust="spacingAndGlyphs">% of</text>
<text transform="translate(20.6,65.6) rotate(-90)" font-size="5.3" font-weight="bold" textLength="6.9" lengthAdjust="spacingAndGlyphs">Kit</text>
<text transform="translate(15.1,57.7) rotate(-90)" font-size="4.8" font-weight="bold" textLength="8" lengthAdjust="spacingAndGlyphs">pos</text>
<text transform="translate(20.6,49.3) rotate(-90)" font-size="5.3" font-weight="bold" textLength="12.6" lengthAdjust="spacingAndGlyphs">CD71</text>
<text transform="translate(15.1,35.7) rotate(-90)" font-size="4.8" font-weight="bold" textLength="11.4" lengthAdjust="spacingAndGlyphs">high</text>
<text transform="translate(157.3,69.7) rotate(-90)" font-size="5.3" font-weight="bold" textLength="6.5" lengthAdjust="spacingAndGlyphs">Kit</text>
<text transform="translate(152.8,62.3) rotate(-90)" font-size="4.8" font-weight="bold" textLength="8.8" lengthAdjust="spacingAndGlyphs">pos</text>
<text transform="translate(157.3,54) rotate(-90)" font-size="5.3" font-weight="bold" textLength="13.2" lengthAdjust="spacingAndGlyphs">CD71</text>
<text transform="translate(154.4,39.3) rotate(-90)" font-size="4.8" font-weight="bold" textLength="11.5" lengthAdjust="spacingAndGlyphs">high</text>
<text transform="translate(157.3,28.6) rotate(-90)" font-size="5.3" font-weight="bold" textLength="1.6" lengthAdjust="spacingAndGlyphs">,</text>
<text transform="translate(163.8,59.6) rotate(-90)" font-size="5.3" font-weight="bold" textLength="18.6" lengthAdjust="spacingAndGlyphs">% total</text>
<text transform="translate(9.9,161.9) rotate(-90)" font-size="5.3" font-weight="bold" textLength="16.7" lengthAdjust="spacingAndGlyphs">PODXL</text>
<text transform="translate(4.7,145.4) rotate(-90)" font-size="4.8" font-weight="bold" textLength="8.5" lengthAdjust="spacingAndGlyphs">pos</text>
<text transform="translate(9.9,136.3) rotate(-90)" font-size="5.3" font-weight="bold" textLength="1.7" lengthAdjust="spacingAndGlyphs">,</text>
<text transform="translate(20.5,180.7) rotate(-90)" font-size="5.3" font-weight="bold" textLength="11.1" lengthAdjust="spacingAndGlyphs">% of</text>
<text transform="translate(20.5,166.4) rotate(-90)" font-size="5.3" font-weight="bold" textLength="13.3" lengthAdjust="spacingAndGlyphs">CD71</text>
<text transform="translate(15,153.6) rotate(-90)" font-size="4.8" font-weight="bold" textLength="11" lengthAdjust="spacingAndGlyphs">high</text>
<text transform="translate(20.5,143.9) rotate(-90)" font-size="5.3" font-weight="bold" textLength="17.5" lengthAdjust="spacingAndGlyphs">Ter119</text>
<text transform="translate(15,126.2) rotate(-90)" font-size="4.8" font-weight="bold" textLength="8.6" lengthAdjust="spacingAndGlyphs">pos</text>
<text transform="translate(158.4,174.9) rotate(-90)" font-size="5.3" font-weight="bold" textLength="13.2" lengthAdjust="spacingAndGlyphs">CD71</text>
<text transform="translate(154.6,160.7) rotate(-90)" font-size="4.8" font-weight="bold" textLength="11.3" lengthAdjust="spacingAndGlyphs">high</text>
<text transform="translate(158.4,148.7) rotate(-90)" font-size="5.3" font-weight="bold" textLength="16.6" lengthAdjust="spacingAndGlyphs">Ter119</text>
<text transform="translate(153.5,130.7) rotate(-90)" font-size="4.8" font-weight="bold" textLength="8.8" lengthAdjust="spacingAndGlyphs">pos</text>
<text transform="translate(158.4,121.6) rotate(-90)" font-size="5.3" font-weight="bold" textLength="1.7" lengthAdjust="spacingAndGlyphs">,</text>
<text transform="translate(165.8,159.5) rotate(-90)" font-size="5.3" font-weight="bold" textLength="18.5" lengthAdjust="spacingAndGlyphs">% total</text>
<text transform="translate(9.9,263.6) rotate(-90)" font-size="5.3" font-weight="bold" textLength="16.6" lengthAdjust="spacingAndGlyphs">PODXL</text>
<text transform="translate(4.7,247.2) rotate(-90)" font-size="4.8" font-weight="bold" textLength="8.6" lengthAdjust="spacingAndGlyphs">pos</text>
<text transform="translate(9.9,238.2) rotate(-90)" font-size="5.3" font-weight="bold" textLength="1.7" lengthAdjust="spacingAndGlyphs">,</text>
<text transform="translate(20.5,282.6) rotate(-90)" font-size="5.3" font-weight="bold" textLength="11.4" lengthAdjust="spacingAndGlyphs">% of</text>
<text transform="translate(20.5,267.2) rotate(-90)" font-size="5.3" font-weight="bold" textLength="12.6" lengthAdjust="spacingAndGlyphs">CD71</text>
<text transform="translate(15,255.6) rotate(-90)" font-size="4.8" font-weight="bold" textLength="11" lengthAdjust="spacingAndGlyphs">high</text>
<text transform="translate(20.5,244.8) rotate(-90)" font-size="5.3" font-weight="bold" textLength="16.3" lengthAdjust="spacingAndGlyphs">Ter119</text>
<text transform="translate(15,227.7) rotate(-90)" font-size="4.8" font-weight="bold" textLength="8.4" lengthAdjust="spacingAndGlyphs">pos</text>
<text transform="translate(158.6,271.9) rotate(-90)" font-size="5.3" font-weight="bold" textLength="12.5" lengthAdjust="spacingAndGlyphs">CD71</text>
<text transform="translate(154.8,258.9) rotate(-90)" font-size="4.8" font-weight="bold" textLength="10.5" lengthAdjust="spacingAndGlyphs">high</text>
<text transform="translate(158.6,246.6) rotate(-90)" font-size="5.3" font-weight="bold" textLength="17" lengthAdjust="spacingAndGlyphs">Ter119</text>
<text transform="translate(153.7,229.7) rotate(-90)" font-size="4.8" font-weight="bold" textLength="8.7" lengthAdjust="spacingAndGlyphs">pos</text>
<text transform="translate(158.6,220.6) rotate(-90)" font-size="5.3" font-weight="bold" textLength="2" lengthAdjust="spacingAndGlyphs">,</text>
<text transform="translate(165.8,257.3) rotate(-90)" font-size="5.3" font-weight="bold" textLength="17.8" lengthAdjust="spacingAndGlyphs">% total</text>
<text transform="translate(298.2,74.4) rotate(-90)" font-size="5.3" font-weight="bold" textLength="16.4" lengthAdjust="spacingAndGlyphs">PODXL</text>
<text transform="translate(292.8,57.7) rotate(-90)" font-size="4.8" font-weight="bold" textLength="8.4" lengthAdjust="spacingAndGlyphs">pos</text>
<text transform="translate(298.2,47.2) rotate(-90)" font-size="5.3" font-weight="bold" textLength="21.2" lengthAdjust="spacingAndGlyphs">, % of R5</text>
<text transform="translate(294.2,164.8) rotate(-90)" font-size="4.6" font-weight="bold" textLength="38.8" lengthAdjust="spacingAndGlyphs">
<tspan dy="0">R5 Reticulocytes,</tspan>
</text>
<text transform="translate(298.5,170) rotate(-90)" font-size="4.6" font-weight="bold" textLength="48" lengthAdjust="spacingAndGlyphs">
<tspan dy="0">% of DRAQ5 </tspan>
<tspan dy="-1.8">neg</tspan>
<tspan dy="1.8"> cells</tspan>
</text>
<text transform="translate(411.7,167.5) rotate(-90)" font-size="4.6" font-weight="bold" textLength="38.6" lengthAdjust="spacingAndGlyphs">
<tspan dy="0">R4 Reticulocytes,</tspan>
</text>
<text transform="translate(417,172.8) rotate(-90)" font-size="4.6" font-weight="bold" textLength="48.8" lengthAdjust="spacingAndGlyphs">
<tspan dy="0">% of DRAQ5 </tspan>
<tspan dy="-1.8">neg</tspan>
<tspan dy="1.8"> cells</tspan>
</text>
<text transform="translate(296,277.8) rotate(-90)" font-size="5.3" font-weight="bold" textLength="16.7" lengthAdjust="spacingAndGlyphs">PODXL</text>
<text transform="translate(290.7,259.8) rotate(-90)" font-size="4.8" font-weight="bold" textLength="8.2" lengthAdjust="spacingAndGlyphs">pos</text>
<text transform="translate(296,251.5) rotate(-90)" font-size="5.3" font-weight="bold" textLength="22.5" lengthAdjust="spacingAndGlyphs">, % of R4</text>
</svg>
</body></html>
